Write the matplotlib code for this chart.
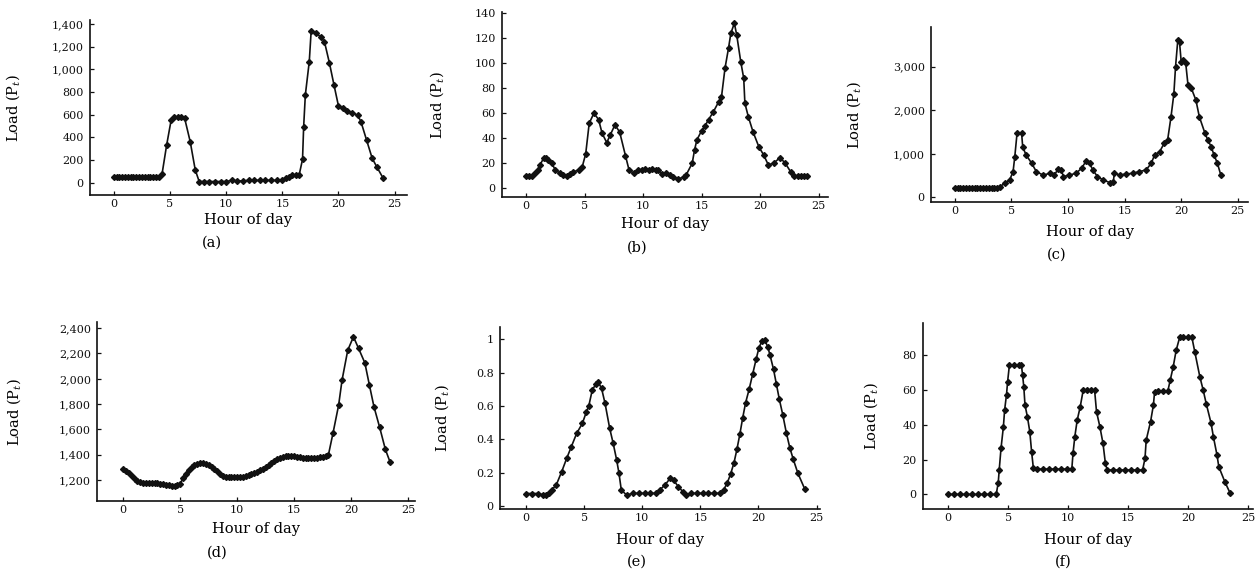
import matplotlib
matplotlib.use('Agg')
import matplotlib.pyplot as plt

plt.rcParams['font.family'] = ['DejaVu Serif']
plt.rcParams['mathtext.fontset'] = 'dejavuserif'

# ---------------- data ----------------
hours_a = [0, 0.25, 0.5, 0.75, 1, 1.25, 1.5, 1.75,
           2, 2.25, 2.5, 2.75, 3, 3.25, 3.5, 3.75,
           4, 4.3, 4.7, 5.1, 5.4, 5.7, 6.0, 6.3,
           6.8, 7.25, 7.6, 8.0, 8.5, 9.0, 9.5, 10.0,
           10.5, 11.0, 11.5, 12.0, 12.5, 13.0, 13.5, 14.0,
           14.5, 15.0, 15.3, 15.6, 15.9, 16.2, 16.5, 16.8,
           16.9, 17.05, 17.4, 17.57, 18.0, 18.4, 18.75, 19.2,
           19.6, 20.0, 20.4, 20.8, 21.2, 21.7, 22.0, 22.5,
           23.0, 23.4, 23.95]
load_a = [50, 50, 50, 50, 50, 50, 50, 50,
          50, 50, 50, 50, 50, 50, 50, 50,
          50, 80, 330, 550, 575, 575, 575, 570,
          362, 112, 10, 10, 10, 10, 10, 10,
          20, 15, 15, 20, 20, 20, 20, 20,
          20, 24, 40, 53, 68, 68, 68, 206,
          494, 774, 1068, 1341, 1318, 1288, 1244, 1053,
          862, 676, 655, 635, 615, 597, 538, 376,
          215, 141, 44]

hours_b = [0, 0.25, 0.5, 0.77, 1.0, 1.2, 1.5, 1.7,
           1.9, 2.2, 2.5, 2.9, 3.2, 3.5, 3.8, 4.05,
           4.5, 4.8, 5.1, 5.4, 5.8, 6.2, 6.5, 6.9,
           7.2, 7.6, 8.0, 8.5, 8.8, 9.2, 9.6, 9.9,
           10.2, 10.5, 10.8, 11.1, 11.3, 11.6, 12.0, 12.3,
           12.6, 13.0, 13.5, 13.7, 14.2, 14.4, 14.6, 15.0,
           15.3, 15.6, 16.0, 16.45, 16.7, 17.0, 17.3, 17.5,
           17.8, 18.0, 18.35, 18.6, 18.7, 19.0, 19.4, 19.9,
           20.3, 20.7, 21.15, 21.7, 22.15, 22.6, 22.9, 23.2,
           23.5, 23.75, 24.0]
load_b = [10, 10, 10, 12, 15, 18.7, 24, 24,
          23, 20, 14.7, 12, 11, 10, 11.5, 13,
          14.7, 17, 27.5, 52, 60, 55, 44, 36.5,
          42.7, 50.7, 45, 26, 14.7, 12, 14.7, 15,
          15.5, 15, 15.5, 15, 15, 11.5, 12, 11,
          9.3, 7.2, 9.3, 11, 20, 30.7, 38.7, 46,
          50, 55, 61, 69, 73, 96, 112, 124,
          132, 122.7, 101, 88, 68, 57, 45, 33,
          26.7, 18.7, 20, 24.5, 20, 13.3, 10, 10,
          10, 10, 10]

hours_c = [0, 0.25, 0.5, 0.75, 1.0, 1.25, 1.5, 1.75,
           2.0, 2.25, 2.5, 2.75, 3.0, 3.25, 3.5, 3.75,
           4.0, 4.4, 4.85, 5.15, 5.3, 5.5, 5.9, 6.0,
           6.3, 6.8, 7.2, 7.8, 8.4, 8.8, 9.1, 9.4,
           9.6, 10.1, 10.7, 11.2, 11.6, 11.9, 12.2, 12.6,
           13.1, 13.7, 14.0, 14.1, 14.6, 15.1, 15.7, 16.3,
           16.9, 17.35, 17.65, 18.1, 18.5, 18.8, 19.1, 19.35,
           19.5, 19.7, 19.85, 20.0, 20.2, 20.4, 20.6, 20.9,
           21.3, 21.6, 22.1, 22.35, 22.65, 22.9, 23.2, 23.5]
load_c = [210, 210, 205, 205, 210, 210, 205, 205,
          210, 210, 205, 205, 210, 210, 215, 220,
          245, 320, 400, 590, 930, 1470, 1480, 1160,
          970, 780, 590, 510, 550, 510, 640, 630,
          475, 510, 550, 665, 834, 780, 627, 475,
          400, 337, 360, 550, 510, 535, 550, 590,
          627, 780, 970, 1050, 1240, 1316, 1850, 2370,
          3000, 3610, 3570, 3110, 3150, 3075, 2580, 2500,
          2230, 1850, 1470, 1316, 1160, 970, 780, 510]

hours_d = [0, 0.25, 0.5, 0.75, 1.0, 1.25, 1.5, 1.75,
           2.0, 2.25, 2.5, 2.75, 3.0, 3.25, 3.5, 3.75,
           4.0, 4.25, 4.5, 4.75, 5.0, 5.25, 5.5, 5.75,
           6.0, 6.25, 6.5, 6.75, 7.0, 7.25, 7.5, 7.75,
           8.0, 8.25, 8.5, 8.75, 9.0, 9.25, 9.5, 9.75,
           10.0, 10.25, 10.5, 10.75, 11.0, 11.25, 11.5, 11.75,
           12.0, 12.25, 12.5, 12.75, 13.0, 13.25, 13.5, 13.75,
           14.0, 14.25, 14.5, 14.75, 15.0, 15.25, 15.5, 15.75,
           16.0, 16.25, 16.5, 16.75, 17.0, 17.25, 17.5, 17.75,
           18.0, 18.4, 18.9, 19.2, 19.7, 20.2, 20.65, 21.2,
           21.6, 22.0, 22.5, 23.0, 23.4]
load_d = [1287, 1272, 1255, 1228, 1208, 1195, 1186, 1180,
          1175, 1174, 1174, 1174, 1174, 1172, 1168, 1162,
          1158, 1156, 1155, 1160, 1172, 1215, 1250, 1282,
          1303, 1318, 1330, 1336, 1337, 1330, 1318, 1302,
          1287, 1270, 1250, 1230, 1222, 1221, 1221, 1221,
          1221, 1223, 1226, 1232, 1238, 1244, 1253, 1262,
          1276, 1290, 1305, 1322, 1337, 1352, 1366, 1376,
          1384, 1388, 1390, 1389, 1386, 1383, 1378, 1373,
          1371, 1371, 1371, 1371, 1372, 1378, 1384, 1390,
          1397, 1568, 1792, 1990, 2226, 2332, 2240, 2126,
          1950, 1779, 1616, 1442, 1345]

hours_e = [0, 0.5, 1.0, 1.5, 1.75, 2.0, 2.2, 2.6,
           3.07, 3.5, 3.9, 4.36, 4.85, 5.2, 5.4, 5.7,
           6.0, 6.2, 6.5, 6.8, 7.2, 7.5, 7.8, 8.0,
           8.2, 8.65, 9.2, 9.7, 10.2, 10.7, 11.2, 11.5,
           11.96, 12.4, 12.7, 13.1, 13.5, 13.8, 14.2, 14.7,
           15.2, 15.7, 16.2, 16.7, 17.0, 17.3, 17.6, 17.9,
           18.15, 18.4, 18.65, 18.9, 19.2, 19.5, 19.8, 20.05,
           20.3, 20.55, 20.8, 21.0, 21.3, 21.55, 21.8, 22.1,
           22.4, 22.7, 23.0, 23.4, 24.0]
load_e = [0.075, 0.075, 0.075, 0.066, 0.066, 0.08, 0.096, 0.126,
          0.206, 0.286, 0.356, 0.436, 0.496, 0.566, 0.6, 0.696,
          0.73, 0.746, 0.706, 0.616, 0.466, 0.376, 0.276, 0.196,
          0.096, 0.066, 0.076, 0.076, 0.076, 0.076, 0.076, 0.096,
          0.126, 0.166, 0.156, 0.116, 0.086, 0.066, 0.076, 0.076,
          0.076, 0.076, 0.076, 0.076, 0.096, 0.136, 0.19, 0.26,
          0.34, 0.43, 0.53, 0.62, 0.70, 0.79, 0.88, 0.95,
          0.99, 0.995, 0.955, 0.905, 0.82, 0.73, 0.64, 0.546,
          0.44, 0.35, 0.28, 0.196, 0.1]

hours_f = [0, 0.5, 1.0, 1.5, 2.0, 2.5, 3.0, 3.5,
           4.0, 4.17, 4.25, 4.4, 4.6, 4.7, 4.86, 4.95,
           5.1, 5.5, 5.9, 6.1, 6.2, 6.3, 6.4, 6.6,
           6.8, 6.95, 7.1, 7.4, 7.9, 8.4, 8.9, 9.4,
           9.9, 10.3, 10.4, 10.55, 10.75, 11.0, 11.25, 11.6,
           11.9, 12.2, 12.36, 12.64, 12.9, 13.1, 13.25, 13.7,
           14.2, 14.7, 15.2, 15.7, 16.2, 16.4, 16.5, 16.86,
           17.1, 17.2, 17.5, 17.9, 18.3, 18.5, 18.75, 19.0,
           19.3, 19.6, 20.0, 20.3, 20.55, 20.97, 21.25, 21.5,
           21.9, 22.1, 22.4, 22.55, 23.05, 23.5]
load_f = [0, 0, 0, 0, 0, 0, 0, 0,
          0, 6.7, 14, 26.4, 38.9, 48.4, 57.4, 64.7,
          74.3, 74.3, 74.3, 74.3, 68.5, 61.8, 51.3, 44.6,
          36, 24.5, 14.9, 14.5, 14.5, 14.5, 14.5, 14.5,
          14.5, 14.5, 23.5, 33.1, 42.7, 50.3, 59.9, 59.9,
          59.9, 59.9, 47.5, 38.9, 29.3, 17.8, 14, 14,
          14, 14, 14, 14, 14, 20.7, 31.2, 41.7,
          51.3, 59, 59.3, 59.3, 59.3, 65.6, 73.3, 82.9,
          90.5, 90.5, 90.5, 90.5, 81.9, 67.6, 59.9, 52.2,
          41.1, 33.1, 22.6, 15.9, 7.3, 0.6]

xticks = [0, 5, 10, 15, 20, 25]
xtick_labels = ['0', '5', '10', '15', '20', '25']

yticks_a = [0, 200, 400, 600, 800, 1000, 1200, 1400]
ylabels_a = ['0', '200', '400', '600', '800', '1,000', '1,200', '1,400']
yticks_b = [0, 20, 40, 60, 80, 100, 120, 140]
ylabels_b = ['0', '20', '40', '60', '80', '100', '120', '140']
yticks_c = [0, 1000, 2000, 3000]
ylabels_c = ['0', '1,000', '2,000', '3,000']
yticks_d = [1200, 1400, 1600, 1800, 2000, 2200, 2400]
ylabels_d = ['1,200', '1,400', '1,600', '1,800', '2,000', '2,200', '2,400']
yticks_e = [0, 0.2, 0.4, 0.6, 0.8, 1.0]
ylabels_e = ['0', '0.2', '0.4', '0.6', '0.8', '1']
yticks_f = [0, 20, 40, 60, 80]
ylabels_f = ['0', '20', '40', '60', '80']

captions = ['(a)', '(b)', '(c)', '(d)', '(e)', '(f)']
x_title = 'Hour of day'
y_title = r'Load (P$_t$)'

# ---------------- layout (pixels) ----------------
W, H = 1255, 571
fig = plt.figure(figsize=(W / 100, H / 100), dpi=100)

panels = [
    dict(h=hours_a, v=load_a, box=(90, 20, 407, 195), xlim=(-2.12, 26.1), ylim=(-109, 1435),
         yt=yticks_a, ytl=ylabels_a, ylx=15, xltop=213, cap=(212, 243)),
    dict(h=hours_b, v=load_b, box=(502, 12, 828, 197), xlim=(-2.05, 25.8), ylim=(-7, 141),
         yt=yticks_b, ytl=ylabels_b, ylx=439, xltop=217, cap=(637, 248)),
    dict(h=hours_c, v=load_c, box=(931, 27, 1248, 202), xlim=(-2.1, 25.9), ylim=(-108, 3910),
         yt=yticks_c, ytl=ylabels_c, ylx=856, xltop=225, cap=(1057, 255)),
    dict(h=hours_d, v=load_d, box=(97, 322, 415, 501), xlim=(-2.3, 25.6), ylim=(1034, 2449),
         yt=yticks_d, ytl=ylabels_d, ylx=16, xltop=522, cap=(217, 553)),
    dict(h=hours_e, v=load_e, box=(500, 327, 820, 509), xlim=(-2.24, 25.3), ylim=(-0.018, 1.074),
         yt=yticks_e, ytl=ylabels_e, ylx=444, xltop=533, cap=(637, 562)),
    dict(h=hours_f, v=load_f, box=(923, 323, 1253, 509), xlim=(-2.1, 25.4), ylim=(-8.4, 98.5),
         yt=yticks_f, ytl=ylabels_f, ylx=873, xltop=533, cap=(1063, 562)),
]

for p, cap in zip(panels, captions):
    l, t, r, b = p['box']
    ax = fig.add_axes([l / W, 1 - b / H, (r - l) / W, (b - t) / H])
    ax.plot(p['h'], p['v'], color='#111111', lw=1.2, marker='D', ms=3.0,
            markerfacecolor='#111111', markeredgecolor='#111111')
    ax.set_xlim(*p['xlim'])
    ax.set_ylim(*p['ylim'])
    ax.set_xticks(xticks)
    ax.set_xticklabels(xtick_labels)
    ax.set_yticks(p['yt'])
    ax.set_yticklabels(p['ytl'])
    for s in ('top', 'right'):
        ax.spines[s].set_visible(False)
    for s in ('left', 'bottom'):
        ax.spines[s].set_linewidth(1.2)
        ax.spines[s].set_color('#111111')
    ax.tick_params(direction='in', length=3, width=0.9, labelsize=8, colors='#111111')
    ax.tick_params(axis='x', pad=3)
    ax.tick_params(axis='y', pad=4.5)
    ax.set_xlabel(x_title, fontsize=10.5)
    ax.set_ylabel(y_title, fontsize=10.5)
    ax.yaxis.set_label_coords((p['ylx'] + 7 - l) / (r - l), 0.5)
    ax.xaxis.set_label_coords(0.5, -(p['xltop'] - b) / (b - t))
    fig.text(p['cap'][0] / W, 1 - p['cap'][1] / H, cap, ha='center', va='center', fontsize=10.5)

fig.savefig('out.png', dpi=100)
